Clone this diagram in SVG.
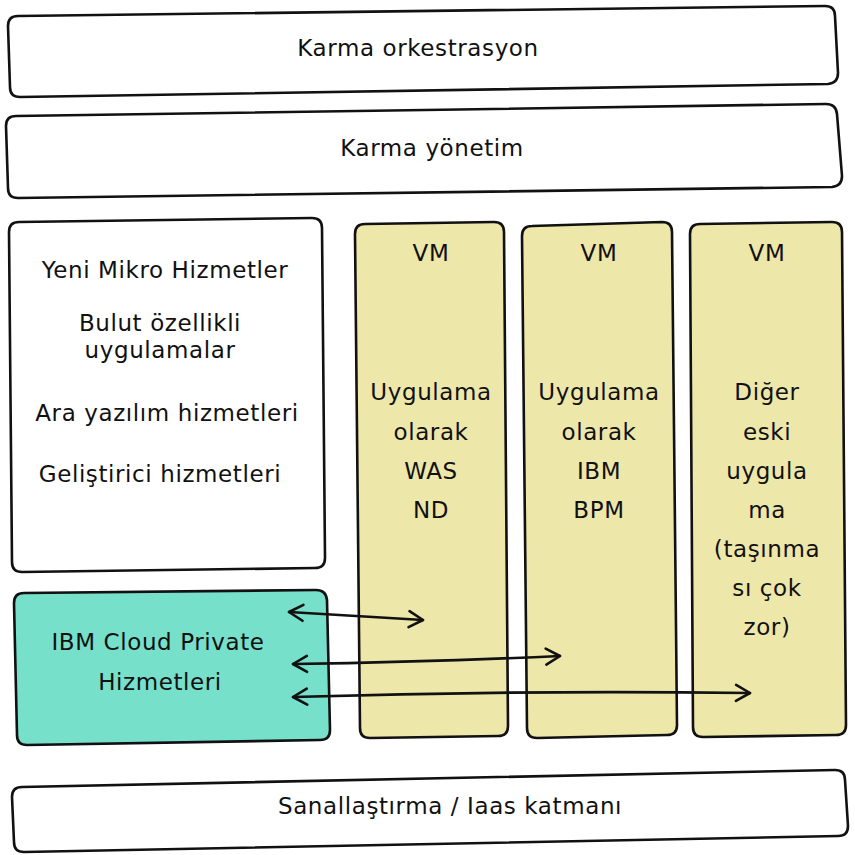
<svg xmlns="http://www.w3.org/2000/svg" width="855" height="855" viewBox="0 0 855 855">
<defs>
<style>
.box{stroke:#111;stroke-width:2.6;stroke-linejoin:round;fill:#fff}
.vm{fill:#EEE7AA}
.teal{fill:#76E0CA}
.t{font-family:"DejaVu Sans","Liberation Sans",sans-serif;font-size:23px;letter-spacing:0.6px;fill:#111;text-anchor:middle}
.c{fill:none;stroke:#111;stroke-width:2.6;stroke-linecap:round}
</style>
<marker id="ah" viewBox="0 0 20 20" refX="18" refY="10" markerWidth="20" markerHeight="20" markerUnits="userSpaceOnUse" orient="auto-start-reverse">
<path d="M4,2 L18,10 L4,18" fill="none" stroke="#111" stroke-width="2.6" stroke-linecap="round" stroke-linejoin="round"/>
</marker>
</defs>
<rect width="855" height="855" fill="#fff"/>

<g id="karma-orkestrasyon">
<path class="box" d="M18,16 L825,6 Q835,6 835,16 L838,73 Q838,83 828,84 L20,97 Q10,97 10,87 L8,26 Q8,16 18,16 Z"/>
<text class="t" x="418" y="56">Karma orkestrasyon</text>
</g>

<g id="karma-yonetim">
<path class="box" d="M16,116 L826,104 Q836,104 837,114 L842,176 Q842,186 832,187 L18,198 Q8,198 8,188 L6,126 Q6,116 16,116 Z"/>
<text class="t" x="432" y="156">Karma yönetim</text>
</g>

<g id="yeni-hizmetler">
<path class="box" d="M19,222 L312,218 Q322,218 322,228 L325,558 Q325,568 315,568 L22,572 Q12,572 12,562 L9,232 Q9,222 19,222 Z"/>
<text class="t" x="165" y="278">Yeni Mikro Hizmetler</text>
<text class="t" x="160" y="331">Bulut özellikli</text>
<text class="t" x="160" y="358">uygulamalar</text>
<text class="t" x="167" y="421">Ara yazılım hizmetleri</text>
<text class="t" x="160" y="482">Geliştirici hizmetleri</text>
</g>

<g id="vm-was">
<path class="box vm" d="M365,224 L494,222 Q504,222 504,232 L508,726 Q508,736 498,736 L370,738 Q360,738 360,728 L355,234 Q355,224 365,224 Z"/>
<text class="t" x="431" y="261">VM</text>
<text class="t" x="431" y="400">Uygulama</text>
<text class="t" x="431" y="440">olarak</text>
<text class="t" x="431" y="479">WAS</text>
<text class="t" x="431" y="518">ND</text>
</g>

<g id="vm-bpm">
<path class="box vm" d="M532,226 L662,222 Q672,222 672,232 L677,725 Q677,735 667,735 L537,738 Q527,738 527,728 L522,236 Q522,226 532,226 Z"/>
<text class="t" x="599" y="261">VM</text>
<text class="t" x="599" y="400">Uygulama</text>
<text class="t" x="599" y="440">olarak</text>
<text class="t" x="599" y="479">IBM</text>
<text class="t" x="599" y="518">BPM</text>
</g>

<g id="vm-diger">
<path class="box vm" d="M700,224 L832,222 Q842,222 842,232 L846,725 Q846,735 836,735 L703,737 Q693,737 693,727 L690,234 Q690,224 700,224 Z"/>
<text class="t" x="767" y="261">VM</text>
<text class="t" x="767" y="400">Diğer</text>
<text class="t" x="767" y="440">eski</text>
<text class="t" x="767" y="479">uygula</text>
<text class="t" x="767" y="518">ma</text>
<text class="t" x="767" y="557">(taşınma</text>
<text class="t" x="767" y="596">sı çok</text>
<text class="t" x="767" y="635">zor)</text>
</g>

<g id="ibm-cloud-private">
<path class="box teal" d="M24,593 L316,590 Q326,590 327,600 L330,730 Q330,740 320,740 L27,745 Q17,745 17,735 L14,603 Q14,593 24,593 Z"/>
<text class="t" x="158" y="650">IBM Cloud Private</text>
<text class="t" x="160" y="690">Hizmetleri</text>
</g>

<g id="sanallastirma">
<path class="box" d="M22,787 L835,770 Q845,770 845,780 L848,826 Q848,836 838,836 L24,852 Q14,852 14,842 L12,797 Q12,787 22,787 Z"/>
<text class="t" x="450" y="814">Sanallaştırma / Iaas katmanı</text>
</g>

<g id="connectors">
<path class="c" d="M289,612 Q360,616 423,620" marker-start="url(#ah)" marker-end="url(#ah)"/>
<path class="c" d="M293,664 Q430,662 560,656" marker-start="url(#ah)" marker-end="url(#ah)"/>
<path class="c" d="M293,697 Q520,690 750,693" marker-start="url(#ah)" marker-end="url(#ah)"/>
</g>
</svg>
